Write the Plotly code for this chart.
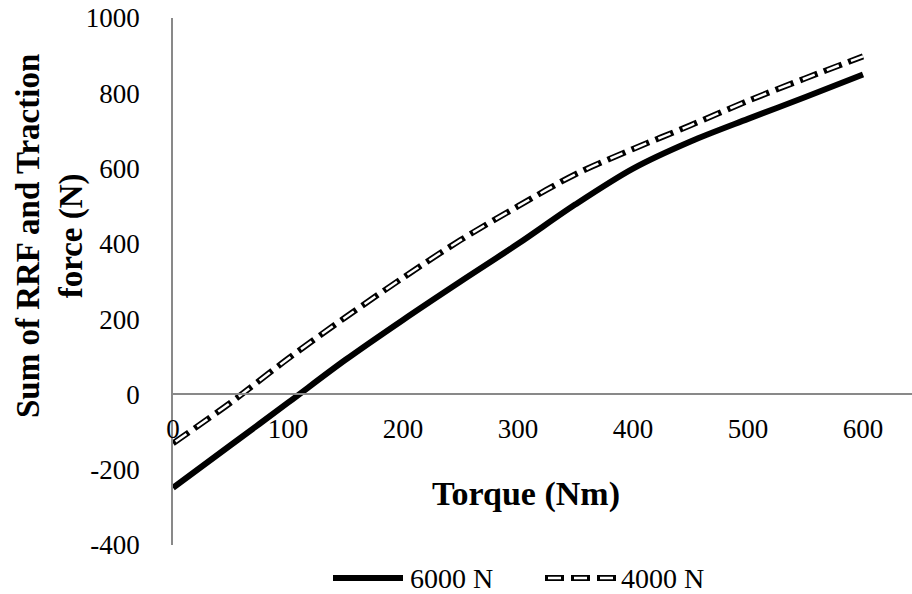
import plotly.graph_objects as go

# Torque sweep (Nm) and resulting force sum (N) for two vertical loads
torque = [0, 50, 100, 150, 200, 250, 300, 350, 400, 450, 500, 550, 600]
force_6000 = [-248, -135, -22, 92, 198, 300, 400, 505, 600, 672, 732, 790, 850]
force_4000 = [-130, -22, 95, 205, 310, 410, 500, 585, 652, 715, 780, 840, 898]
legend_names = ["6000 N", "4000 N"]

x_ticks = [0, 100, 200, 300, 400, 500, 600]
y_ticks = [-400, -200, 0, 200, 400, 600, 800, 1000]
y_tick_text = ["-400", "-200", "0", "200", "400", "600", "800", "1000"]

FONT = "Liberation Serif"
DASH_OUT = "19px,7px"
DASH_IN = "0px,3px,13px,10px"
SMOOTH = 0.9

fig = go.Figure()

fig.add_trace(go.Scatter(x=torque, y=force_6000, mode="lines", name=legend_names[0],
                         line=dict(color="black", width=6, shape="spline", smoothing=SMOOTH),
                         showlegend=False))
# outlined dashes: black dash with a white core
fig.add_trace(go.Scatter(x=torque, y=force_4000, mode="lines", name=legend_names[1],
                         line=dict(color="black", width=6, dash=DASH_OUT, shape="spline",
                                   smoothing=SMOOTH),
                         showlegend=False))
fig.add_trace(go.Scatter(x=torque, y=force_4000, mode="lines", name=legend_names[1],
                         line=dict(color="white", width=2.5, dash=DASH_IN, shape="spline",
                                   smoothing=SMOOTH),
                         showlegend=False, hoverinfo="skip"))

W, H = 912, 594
ml, mr, mt, mb = 173, 0, 18, 49
pw, ph = W - ml - mr, H - mt - mb

def px(x):
    return (x - ml) / pw

def py(y):
    return (H - mb - y) / ph

# legend drawn as shapes + text along the bottom
ly = py(578)
shapes = [
    dict(type="line", xref="paper", yref="paper", x0=px(333), x1=px(403), y0=ly, y1=ly,
         line=dict(color="black", width=6)),
    dict(type="line", xref="paper", yref="paper", x0=px(545), x1=px(616), y0=ly, y1=ly,
         line=dict(color="black", width=6, dash=DASH_OUT)),
    dict(type="line", xref="paper", yref="paper", x0=px(545), x1=px(616), y0=ly, y1=ly,
         line=dict(color="white", width=2.5, dash=DASH_IN)),
]
annotations = [
    dict(text=legend_names[0], xref="paper", yref="paper", x=px(408), y=py(578), xanchor="left",
         yanchor="middle", showarrow=False, font=dict(family=FONT, size=28, color="black")),
    dict(text=legend_names[1], xref="paper", yref="paper", x=px(619), y=py(578), xanchor="left",
         yanchor="middle", showarrow=False, font=dict(family=FONT, size=28, color="black")),
    dict(text="<b>Torque (Nm)</b>", xref="paper", yref="paper", x=px(526), y=py(494),
         xanchor="center", yanchor="middle", showarrow=False,
         font=dict(family=FONT, size=34, color="black")),
    dict(text="<b>Sum of RRF and Traction<br>force (N)</b>", xref="paper", yref="paper",
         x=px(50), y=py(236), xanchor="center", yanchor="middle", textangle=-90,
         showarrow=False, font=dict(family=FONT, size=33, color="black")),
]

fig.update_layout(
    width=W, height=H,
    margin=dict(l=ml, r=mr, t=mt, b=mb),
    paper_bgcolor="white", plot_bgcolor="white",
    font=dict(family=FONT, size=27, color="black"),
    shapes=shapes, annotations=annotations,
    xaxis=dict(range=[0, 642.6], tickvals=x_ticks,
               showgrid=False, zeroline=False, showline=True, linecolor="#898989",
               linewidth=1.5, anchor="free", position=400 / 1400, ticks="",
               ticklabelstandoff=10, tickfont=dict(family=FONT, size=27, color="black")),
    yaxis=dict(range=[-400, 1000], tickvals=y_ticks, ticktext=y_tick_text,
               showgrid=False, zeroline=False, showline=True, linecolor="#898989",
               linewidth=1.5, ticks="", ticklabelstandoff=26,
               tickfont=dict(family=FONT, size=27, color="black")),
)

fig.write_html("out.html")
